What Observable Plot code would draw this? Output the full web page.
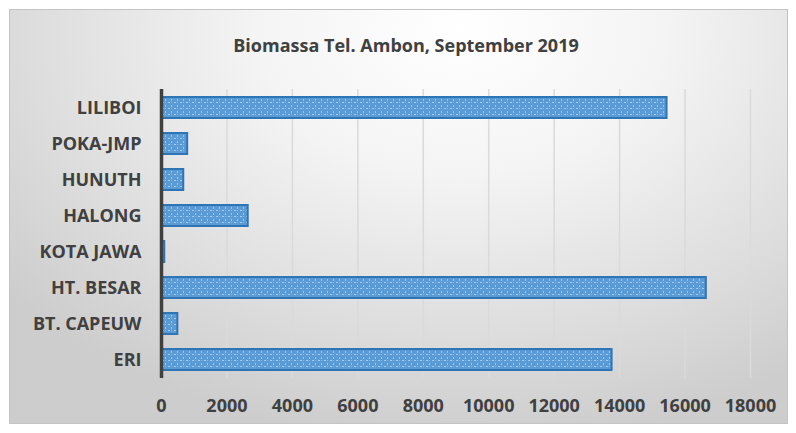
<!DOCTYPE html>
<html><head><meta charset="utf-8">
<script src="https://cdn.jsdelivr.net/npm/d3@7"></script>
<script src="https://cdn.jsdelivr.net/npm/@observablehq/plot@0.6"></script>
<style>
body{margin:0;background:#fff;}
#wrap{position:relative;width:796px;height:433px;overflow:hidden;font-family:"Open Sans",sans-serif;}
#frame{position:absolute;left:9px;top:9px;width:779px;height:415px;border:1px solid #c4c4c4;box-sizing:border-box;
background:radial-gradient(ellipse 75% 100% at 58% 5%, #ffffff 0%, #f4f4f4 35%, #dedede 72%, #cdcdcd 100%);}
#title{position:absolute;left:0;width:812px;top:33px;text-align:center;font-weight:700;font-size:18px;color:#404040;}
#chart{position:absolute;left:0;top:0;}
#chart svg{background:transparent !important;}
</style></head>
<body><div id="wrap"><div id="frame"></div><div id="title">Biomassa Tel. Ambon, September 2019</div><div id="chart"></div></div>
<script>
const categories = ["LILIBOI","POKA-JMP","HUNUTH","HALONG","KOTA JAWA","HT. BESAR","BT. CAPEUW","ERI"];
const values = [15450, 800, 680, 2650, 100, 16650, 500, 13770];
const xTicks = [0,2000,4000,6000,8000,10000,12000,14000,16000,18000];
const data = categories.map((c,i)=>({cat:c, v:values[i]}));

const plot = Plot.plot({
  width:796, height:433,
  marginLeft:161, marginRight:46, marginTop:89, marginBottom:55,
  style:{background:"transparent", fontFamily:"'Open Sans', sans-serif"},
  x:{domain:[0,18000]},
  y:{domain:categories, paddingInner:0.41, paddingOuter:0.205},
  marks:[
    Plot.ruleX(xTicks.filter(d=>d>0), {stroke:"#dadada", strokeWidth:1.5}),
    Plot.barX(data, {y:"cat", x:"v", fill:"url(#dotpat)", stroke:"#2e75b6", strokeWidth:2}),
    Plot.axisX({ticks:xTicks, tickSize:0, tickPadding:21, tickFormat:d=>String(d), fontSize:18, fontWeight:700, fill:"#404040", label:null}),
    Plot.axisY({tickSize:0, tickPadding:20, fontSize:18, fontWeight:700, fill:"#404040", label:null}),
    Plot.ruleX([0], {stroke:"#404040", strokeWidth:3.5})
  ]
});
document.getElementById("chart").appendChild(plot);
const ns="http://www.w3.org/2000/svg";
const defs=document.createElementNS(ns,"defs");
defs.innerHTML=`<pattern id="dotpat" patternUnits="userSpaceOnUse" width="6" height="6">
<rect width="6" height="6" fill="#5b9bd5"/>
<rect x="0" y="0" width="2" height="1" fill="#a9cbec"/>
<rect x="3" y="3" width="1" height="2" fill="#9fc4e9"/>
<rect x="3" y="0" width="1" height="1" fill="#8ab8e4"/>
</pattern>`;
plot.insertBefore(defs, plot.firstChild);
</script></body></html>
